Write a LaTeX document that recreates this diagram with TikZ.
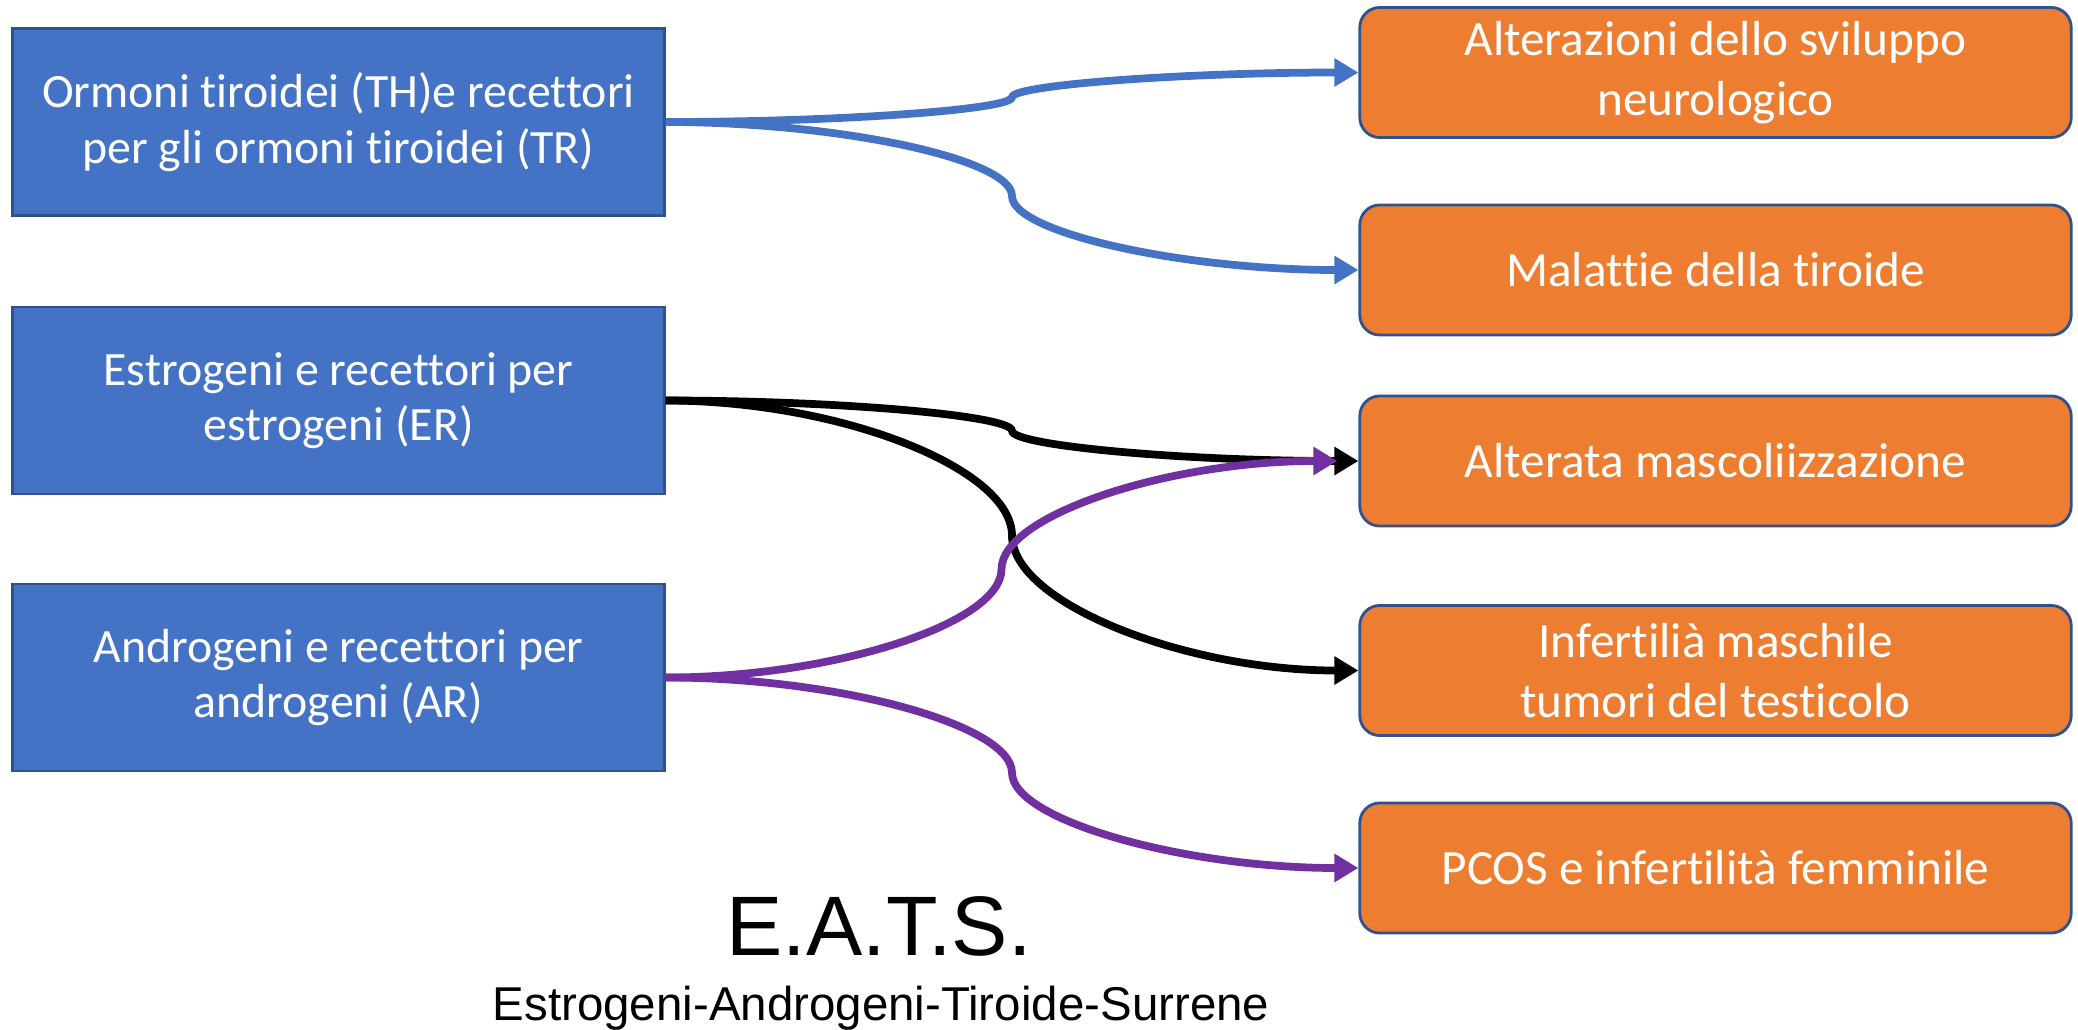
\documentclass[tikz,border=0pt]{standalone}
\usepackage{fontspec}
\setmainfont{Carlito}[Ligatures={NoCommon}]
\newfontfamily\arialfont{Liberation Sans}
\usetikzlibrary{arrows.meta,calc}
\definecolor{boxblue}{HTML}{4472C4}
\definecolor{edgeblue}{HTML}{2F528F}
\definecolor{boxorange}{HTML}{ED7D31}
\definecolor{linkblue}{HTML}{4472C4}
\definecolor{linkpurple}{HTML}{7030A0}

\tikzset{
  source/.style={draw=edgeblue, line width=0.8pt, fill=boxblue, text=white,
    minimum width=6.51cm, minimum height=1.87cm, inner sep=0pt, align=center,
    font=\fontsize{13.6}{15.8}\selectfont},
  effect/.style={draw=edgeblue, line width=0.8pt, fill=boxorange, rounded corners=0.2cm,
    text=white, minimum width=7.11cm, minimum height=1.3cm, inner sep=0pt, align=center,
    font=\fontsize{14}{17}\selectfont},
  link/.style={line width=2.2pt, -{Triangle[length=0.24cm,width=0.27cm]}},
}

% S-shaped connector: leaves horizontally, turns vertical halfway, arrives horizontally
\newcommand\elbowlink[3]{%
  \draw[link,#1] let \p1=(#2), \p2=(#3) in
    (\p1) .. controls ({(3*\x1+\x2)/4},\y1) and ({(\x1+\x2)/2},{(3*\y1+\y2)/4})
    .. ({(\x1+\x2)/2},{(\y1+\y2)/2})
    .. controls ({(\x1+\x2)/2},{(\y1+3*\y2)/4}) and ({(\x1+3*\x2)/4},\y2) .. (\p2);
}

\begin{document}
\begin{tikzpicture}[x=0.01cm, y=-0.01cm]
\useasboundingbox (0,0) rectangle (2078,1030);

% hormone systems
\node[source] (th) at (338.5,122) {Ormoni tiroidei (TH)e recettori\\per gli ormoni tiroidei (TR)};
\node[source] (er) at (338.5,400.5) {Estrogeni e recettori per\\estrogeni (ER)};
\node[source] (ar) at (338.5,677.5) {Androgeni e recettori per\\androgeni (AR)};

% effects
\node[effect] (neuro) at (1715.5,72.5) {Alterazioni dello sviluppo\\neurologico};
\node[effect] (tiro) at (1715.5,270) {Malattie della tiroide};
\node[effect] (masc) at (1715.5,461) {Alterata mascoliizzazione};
\node[effect] (infm) at (1715.5,670.5) {Infertilià maschile\\tumori del testicolo};
\node[effect] (pcos) at (1715.5,868) {PCOS e infertilità femminile};

\coordinate (mascin) at ([xshift=-0.21cm]masc.west);

% connectors
\elbowlink{linkblue}{th.east}{neuro.west}
\elbowlink{linkblue}{th.east}{tiro.west}
\elbowlink{black}{er.east}{masc.west}
\elbowlink{black}{er.east}{infm.west}
\elbowlink{linkpurple}{ar.east}{mascin}
\elbowlink{linkpurple}{ar.east}{pcos.west}

% title
\node[anchor=base, font=\arialfont\fontsize{24}{28}\selectfont] (eats) at (879,955) {E.A.T.S.};
\node[anchor=base, font=\arialfont\fontsize{13.5}{16}\selectfont] (eatsfull) at (881,1020) {Estrogeni-Androgeni-Tiroide-Surrene};
\end{tikzpicture}
\end{document}
